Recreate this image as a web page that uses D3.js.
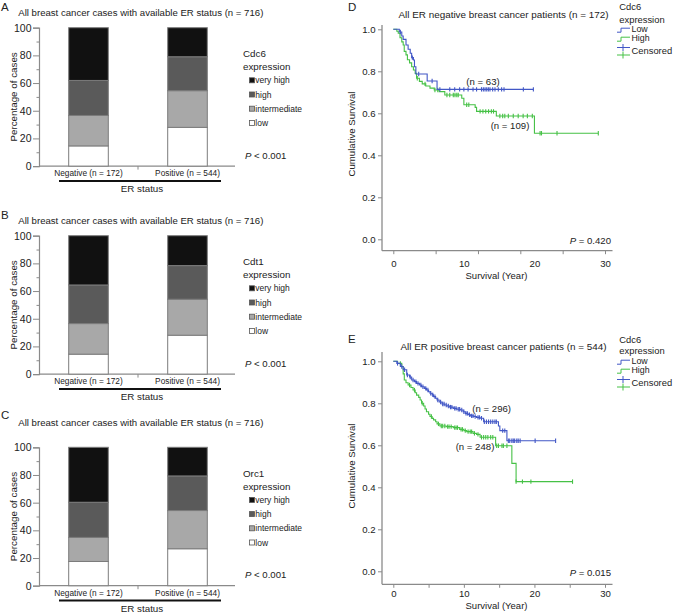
<!DOCTYPE html>
<html><head><meta charset="utf-8">
<script src="https://cdn.jsdelivr.net/npm/d3@7"></script>
<style>
body{margin:0;background:#fff}
svg{display:block;font-family:"Liberation Sans",Arial,Helvetica,sans-serif}
</style>
</head><body>
<svg id="c" width="675" height="612"></svg>
<script>
// ---------- DATA: stacked bars (percent of cases per level) ----------
const categories = ["Negative (n = 172)", "Positive (n = 544)"];
const levels = ["low", "intermediate", "high", "very high"];
const barTicks = [0, 20, 40, 60, 80, 100];
const cdc6Neg = [14.6, 22.0, 25.3, 38.1];
const cdc6Pos = [28.0, 26.5, 24.5, 21.0];
const cdt1Neg = [14.4, 22.1, 27.9, 35.6];
const cdt1Pos = [28.1, 26.0, 24.3, 21.6];
const orc1Neg = [17.5, 17.4, 25.4, 39.7];
const orc1Pos = [26.7, 27.6, 25.0, 20.7];

// ---------- DATA: Kaplan-Meier curves (event times in years, survival after step) ----------
const kmYTicks = [0, 0.2, 0.4, 0.6, 0.8, 1.0];
const kmXLabels = [0, 10, 20, 30];
// Panel D (ER negative)
const dLowT = [0, 0.85, 1.2, 1.4, 1.8, 2.1, 2.4, 2.6, 2.85, 3.0, 3.2, 4.8, 6.2];
const dLowS = [1.0, 0.987, 0.968, 0.952, 0.925, 0.905, 0.886, 0.865, 0.854, 0.822, 0.787, 0.754, 0.714];
const dLowEnd = 19.85;
const dLowCens = [1.0, 2.7, 3.6, 5.5, 6.6, 8.0, 8.7, 9.4, 10.0, 10.6, 11.3, 11.8, 12.5, 12.76, 13.0, 13.24, 13.47, 13.7, 14.08, 14.41, 14.88, 15.35, 15.69, 18.43, 19.85];
const dHighT = [0, 0.5, 0.7, 0.95, 1.2, 1.4, 1.55, 1.8, 2.0, 2.3, 2.6, 2.85, 3.1, 3.3, 3.7, 4.1, 4.6, 5.2, 5.8, 6.5, 7.3, 9.7, 10.0, 11.6, 11.8, 14.6, 20.0];
const dHighS = [1.0, 0.991, 0.981, 0.96, 0.94, 0.925, 0.895, 0.878, 0.855, 0.84, 0.822, 0.806, 0.79, 0.767, 0.752, 0.74, 0.73, 0.72, 0.711, 0.703, 0.687, 0.672, 0.641, 0.628, 0.609, 0.587, 0.505];
const dHighEnd = 29.05;
const dHighCens = [3.4, 4.5, 5.9, 6.3, 7.6, 8.0, 8.5, 8.74, 9.0, 9.2, 10.4, 10.7, 12.3, 12.7, 13.1, 13.5, 13.9, 14.2, 15.1, 15.5, 15.8, 16.3, 17.0, 17.7, 18.4, 19.0, 19.7, 20.8, 21.0, 23.2, 29.05];
// Panel E (ER positive)
const eLowT = [0, 0.5, 1.0, 1.4, 1.9, 2.3, 2.6, 3.0, 3.3, 3.7, 4.0, 4.4, 4.7, 5.0, 5.2, 5.5, 5.7, 6.0, 6.2, 6.5, 6.9, 7.3, 7.6, 8.0, 8.5, 9.0, 9.5, 9.9, 10.2, 10.6, 10.9, 11.4, 11.8, 12.3, 12.8, 14.9, 15.1, 16.1];
const eLowS = [1.0, 0.99, 0.975, 0.96, 0.935, 0.925, 0.911, 0.903, 0.895, 0.887, 0.879, 0.871, 0.863, 0.855, 0.848, 0.840, 0.832, 0.824, 0.816, 0.806, 0.797, 0.792, 0.787, 0.782, 0.776, 0.772, 0.768, 0.760, 0.752, 0.746, 0.740, 0.737, 0.733, 0.729, 0.712, 0.692, 0.670, 0.622];
const eLowEnd = 23.0;
const eLowCens = [0.6, 1.2, 1.6, 2.0, 2.4, 2.8, 3.2, 3.5, 3.9, 4.2, 4.6, 4.9, 5.3, 5.6, 5.9, 6.3, 6.7, 7.0, 7.2, 7.5, 7.8, 8.1, 8.3, 8.7, 8.9, 9.2, 9.4, 9.7, 10.0, 10.3, 10.5, 10.8, 11.1, 11.3, 11.6, 12.0, 12.2, 12.5, 12.9, 13.2, 13.5, 13.8, 14.1, 14.4, 14.6, 15.5, 15.8, 16.3, 16.5, 16.8, 17.0, 17.2, 17.5, 17.7, 17.97, 20.1, 23.0];
const eHighT = [0, 0.6, 1.2, 1.4, 1.56, 1.8, 2.1, 2.5, 2.8, 3.1, 3.3, 3.6, 3.8, 4.0, 4.3, 4.5, 4.7, 5.0, 5.2, 5.5, 5.7, 6.0, 6.2, 6.6, 7.5, 8.5, 9.4, 10.0, 10.4, 11.3, 11.8, 12.3, 14.5, 16.8, 17.4];
const eHighS = [1.0, 0.99, 0.975, 0.94, 0.911, 0.898, 0.887, 0.875, 0.863, 0.85, 0.839, 0.828, 0.816, 0.80, 0.787, 0.773, 0.760, 0.748, 0.737, 0.728, 0.721, 0.712, 0.702, 0.692, 0.689, 0.684, 0.676, 0.670, 0.665, 0.657, 0.652, 0.638, 0.598, 0.514, 0.427];
const eHighEnd = 25.4;
const eHighCens = [1.0, 2.3, 3.0, 4.1, 5.4, 6.4, 6.8, 7.0, 7.3, 7.7, 7.9, 8.2, 8.7, 8.9, 9.1, 9.6, 9.8, 10.2, 10.6, 10.9, 11.1, 11.5, 12.0, 12.5, 12.8, 13.1, 13.4, 13.8, 14.1, 14.65, 14.9, 15.4, 15.6, 16.1, 17.4, 18.3, 19.5, 25.4];

// ---------- STYLE ----------
const barFill = {"low": "#ffffff", "intermediate": "#a8a8a8", "high": "#5a5a5a", "very high": "#111111"};
const txt = "#222";
const axisCol = "#8a8a8a";
const blue = "#4257c6";
const green = "#46c146";
const FF = "Liberation Sans, Arial, sans-serif";

const svg = d3.select("#c");

// ---------- BAR PANELS ----------
function barPanel(cfg) {
  const g = svg.append("g");
  const yTop = cfg.yTop, yBot = cfg.yTop + 138.4;
  const x = d3.scaleBand().domain(categories).range([39, 237]).paddingInner(0.6).paddingOuter(0.3);
  const y = d3.scaleLinear().domain([0, 100]).range([yBot, yTop]);

  g.append("text").attr("x", 1).attr("y", cfg.letterY).attr("font-size", 11.5).attr("fill", txt).text(cfg.letter);
  g.append("text").attr("x", 18.3).attr("y", cfg.titleY).attr("font-size", 9.6).attr("fill", txt)
    .text("All breast cancer cases with available ER status (n = 716)");

  // y axis
  const ya = g.append("g").attr("transform", "translate(39,0)")
    .call(d3.axisLeft(y).tickValues(barTicks).tickSize(6).tickPadding(1.5));
  ya.select(".domain").attr("stroke", axisCol).attr("stroke-width", 1.2);
  ya.selectAll(".tick line").attr("stroke", axisCol);
  ya.selectAll(".tick text").attr("font-size", 10.5).attr("fill", txt).attr("font-family", FF);
  const minor = g.append("g").attr("transform", "translate(39,0)")
    .call(d3.axisLeft(y).tickValues([10, 30, 50, 70, 90]).tickSize(2.5).tickFormat(""));
  minor.select(".domain").remove();
  minor.selectAll(".tick line").attr("stroke", axisCol);

  // x axis line
  g.append("line").attr("x1", 39).attr("x2", 235).attr("y1", yBot).attr("y2", yBot).attr("stroke", axisCol).attr("stroke-width", 1.2);
  g.append("line").attr("x1", x(categories[1]) - x.step() * 0.3).attr("x2", x(categories[1]) - x.step() * 0.3)
    .attr("y1", yBot).attr("y2", yBot + 3.5).attr("stroke", axisCol);

  // stacked bars
  const rows = categories.map((c, i) => {
    const vals = i === 0 ? cfg.neg : cfg.pos;
    const o = {cat: c};
    levels.forEach((l, j) => o[l] = vals[j]);
    return o;
  });
  const stack = d3.stack().keys(levels)(rows);
  stack.forEach(layer => {
    g.selectAll(null).data(layer).enter().append("rect")
      .attr("x", d => x(d.data.cat))
      .attr("width", x.bandwidth())
      .attr("y", d => y(d[1]))
      .attr("height", d => y(d[0]) - y(d[1]))
      .attr("fill", barFill[layer.key])
      .attr("stroke", "#7c7c7c").attr("stroke-width", 1);
  });

  // category labels
  categories.forEach(c => {
    g.append("text").attr("x", x(c) + x.bandwidth() / 2).attr("y", yBot + 9.8)
      .attr("text-anchor", "middle").attr("font-size", 8.3).attr("fill", txt).text(c);
  });
  g.append("line").attr("x1", 59).attr("x2", 221).attr("y1", yBot + 14.8).attr("y2", yBot + 14.8)
    .attr("stroke", "#111").attr("stroke-width", 2);
  g.append("text").attr("x", 142).attr("y", yBot + 25.8).attr("text-anchor", "middle")
    .attr("font-size", 9.8).attr("fill", txt).text("ER status");

  // y label
  g.append("text").attr("transform", `translate(16.5,${(yTop + yBot) / 2}) rotate(-90)`)
    .attr("text-anchor", "middle").attr("font-size", 9.8).attr("fill", txt).text("Percentage of cases");

  // legend
  g.append("text").attr("x", 243).attr("y", yTop + 29.3).attr("font-size", 9.8).attr("fill", txt).text(cfg.gene);
  g.append("text").attr("x", 243).attr("y", yTop + 42.5).attr("font-size", 9.8).attr("fill", txt).text("expression");
  const legendOrder = levels.slice().reverse();
  legendOrder.forEach((l, i) => {
    const cy = yTop + 52.6 + i * 14.2;
    g.append("rect").attr("x", 249.5).attr("y", cy - 2.5).attr("width", 5).attr("height", 5)
      .attr("fill", barFill[l]).attr("stroke", "#555").attr("stroke-width", 0.8);
    g.append("text").attr("x", 255.3).attr("y", cy + 3).attr("font-size", 8.5).attr("fill", txt).text(l);
  });
  const p = g.append("text").attr("x", 245).attr("y", yTop + 130.8).attr("font-size", 9.6).attr("fill", txt);
  p.append("tspan").attr("font-style", "italic").text("P");
  p.append("tspan").text(" < 0.001");
}

barPanel({letter: "A", letterY: 10.5, titleY: 15.6, yTop: 27.7, gene: "Cdc6", neg: cdc6Neg, pos: cdc6Pos});
barPanel({letter: "B", letterY: 219, titleY: 224, yTop: 235.7, gene: "Cdt1", neg: cdt1Neg, pos: cdt1Pos});
barPanel({letter: "C", letterY: 419, titleY: 426, yTop: 447.3, gene: "Orc1", neg: orc1Neg, pos: orc1Pos});

// ---------- KM PANELS ----------
function kmPanel(cfg) {
  const g = svg.append("g");
  const y0 = cfg.y0;
  const x = d3.scaleLinear().domain([0, 30]).range([393.3, 605]);
  const y = d3.scaleLinear().domain([0, 1]).range([y0 + 239.3, y0 + 29.3]);
  const axY = cfg.axisY;

  g.append("text").attr("x", 348).attr("y", y0 + 10.5).attr("font-size", 11.5).attr("fill", txt).text(cfg.letter);
  g.append("text").attr("x", 503.5).attr("y", y0 + 17.5).attr("text-anchor", "middle").attr("font-size", 9.9).attr("fill", txt).text(cfg.title);

  // axes lines
  g.append("line").attr("x1", 382).attr("x2", 382).attr("y1", y0 + cfg.axisTopRel).attr("y2", axY).attr("stroke", axisCol).attr("stroke-width", 1.3);
  g.append("line").attr("x1", 382).attr("x2", 612.5).attr("y1", axY).attr("y2", axY).attr("stroke", axisCol).attr("stroke-width", 1.3);

  const ya = g.append("g").attr("transform", "translate(382,0)")
    .call(d3.axisLeft(y).tickValues(kmYTicks).tickFormat(d3.format(".1f")).tickSize(4).tickPadding(2.5));
  ya.select(".domain").remove();
  ya.selectAll(".tick line").attr("stroke", axisCol);
  ya.selectAll(".tick text").attr("font-size", 9.6).attr("fill", txt).attr("font-family", FF);

  const xa = g.append("g").attr("transform", `translate(0,${axY})`)
    .call(d3.axisBottom(x).tickValues(cfg.xTickMarks).tickSize(3.5).tickFormat(""));
  xa.select(".domain").remove();
  xa.selectAll(".tick line").attr("stroke", axisCol);
  const xl = g.append("g").attr("transform", `translate(0,${axY})`)
    .call(d3.axisBottom(x).tickValues(kmXLabels).tickSize(0).tickPadding(cfg.xLabelPad));
  xl.select(".domain").remove();
  xl.selectAll(".tick text").attr("font-size", 9.6).attr("fill", txt).attr("font-family", FF);

  g.append("text").attr("x", 496.5).attr("y", axY + cfg.xTitleOff).attr("text-anchor", "middle").attr("font-size", 9.5).attr("fill", txt).text("Survival (Year)");
  g.append("text").attr("transform", `translate(355,${y0 + 134}) rotate(-90)`).attr("text-anchor", "middle")
    .attr("font-size", 9.6).attr("fill", txt).text("Cumulative Survival");

  const line = d3.line().x(d => x(d[0])).y(d => y(d[1])).curve(d3.curveStepAfter);
  function series(T, S, end, cens, col) {
    const pts = T.map((t, i) => [t, S[i]]);
    pts.push([end, S[S.length - 1]]);
    g.append("path").attr("d", line(pts)).attr("fill", "none").attr("stroke", col).attr("stroke-width", 1.1);
    const sAt = t => S[Math.max(0, d3.bisectRight(T, t) - 1)];
    g.selectAll(null).data(cens).enter().append("line")
      .attr("x1", d => x(d)).attr("x2", d => x(d))
      .attr("y1", d => y(sAt(d)) - 2.2).attr("y2", d => y(sAt(d)) + 2.2)
      .attr("stroke", col).attr("stroke-width", 1.1);
  }
  series(cfg.highT, cfg.highS, cfg.highEnd, cfg.highCens, green);
  series(cfg.lowT, cfg.lowS, cfg.lowEnd, cfg.lowCens, blue);

  // n labels
  g.append("text").attr("x", cfg.nLow[1]).attr("y", cfg.nLow[2]).attr("text-anchor", "middle").attr("font-size", 9.6).attr("fill", txt).text(cfg.nLow[0]);
  g.append("text").attr("x", cfg.nHigh[1]).attr("y", cfg.nHigh[2]).attr("text-anchor", "middle").attr("font-size", 9.6).attr("fill", txt).text(cfg.nHigh[0]);

  // P
  const p = g.append("text").attr("x", 611).attr("y", y0 + 243.5).attr("text-anchor", "end").attr("font-size", 9.6).attr("fill", txt);
  p.append("tspan").attr("font-style", "italic").text("P");
  p.append("tspan").text(" = " + cfg.p);

  // legend
  g.append("text").attr("x", 619.3).attr("y", y0 + cfg.legTitleY[0]).attr("font-size", 9.4).attr("fill", txt).text("Cdc6");
  g.append("text").attr("x", 619.3).attr("y", y0 + cfg.legTitleY[1]).attr("font-size", 9.4).attr("fill", txt).text("expression");
  [["Low", blue, 29.2], ["High", green, 38.2]].forEach(([lab, col, cy]) => {
    g.append("path").attr("d", `M617,${y0 + cy + 3}H621V${y0 + cy - 1}H630`).attr("fill", "none").attr("stroke", col).attr("stroke-width", 1);
    g.append("text").attr("x", 631.5).attr("y", y0 + cy + 3.2).attr("font-size", 8.8).attr("fill", txt).text(lab);
  });
  [[blue, 47.5], [green, 55]].forEach(([col, cy]) => {
    g.append("line").attr("x1", 617).attr("x2", 630).attr("y1", y0 + cy).attr("y2", y0 + cy).attr("stroke", col).attr("stroke-width", 1);
    g.append("line").attr("x1", 623).attr("x2", 623).attr("y1", y0 + cy - 3.5).attr("y2", y0 + cy + 3.5).attr("stroke", col).attr("stroke-width", 1);
  });
  g.append("text").attr("x", 631.5).attr("y", y0 + 53.8).attr("font-size", 9.4).attr("fill", txt).text("Censored");
}

kmPanel({y0: 0, letter: "D", title: "All ER negative breast cancer patients (n = 172)",
  axisY: 250.7, axisTopRel: 25, xTickMarks: [0, 6, 12, 18, 24, 30], xLabelPad: 9.5, xTitleOff: 27.8,
  lowT: dLowT, lowS: dLowS, lowEnd: dLowEnd, lowCens: dLowCens,
  highT: dHighT, highS: dHighS, highEnd: dHighEnd, highCens: dHighCens,
  nLow: ["(n = 63)", 483, 84.5], nHigh: ["(n = 109)", 510, 129], p: "0.420", legTitleY: [9.5, 22.5]});
kmPanel({y0: 332, letter: "E", title: "All ER positive breast cancer patients (n = 544)",
  axisY: 584.3, axisTopRel: 20, xTickMarks: [0, 5, 10, 15, 20, 25, 30], xLabelPad: 6.3, xTitleOff: 24.4,
  lowT: eLowT, lowS: eLowS, lowEnd: eLowEnd, lowCens: eLowCens,
  highT: eHighT, highS: eHighS, highEnd: eHighEnd, highCens: eHighCens,
  nLow: ["(n = 296)", 491.7, 411.8], nHigh: ["(n = 248)", 475, 450], p: "0.015", legTitleY: [11, 22]});
</script>
</body></html>
